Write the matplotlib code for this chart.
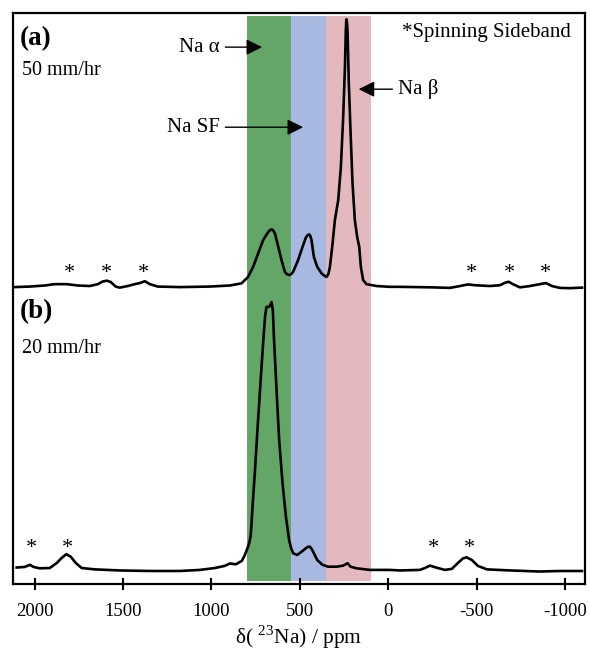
import matplotlib
matplotlib.use('Agg')
import matplotlib.pyplot as plt

plt.rcParams['font.family'] = ['Liberation Serif', 'DejaVu Serif']
plt.rcParams['mathtext.fontset'] = 'custom'
plt.rcParams['mathtext.rm'] = 'Liberation Serif'
plt.rcParams['axes.unicode_minus'] = False

# (a) 50 mm/hr, chemical shift (ppm) and intensity (max peak = 100)
ppm_a = [2113, 2028, 1943, 1887, 1819, 1757, 1689, 1643, 1615, 1592, 1570, 1542,
         1519, 1474, 1434, 1406, 1377, 1349, 1304, 1179, 1009, 896, 830, 793,
         764, 736, 708, 685, 672, 660, 650, 641, 622, 604, 585, 573, 561, 550, 538,
         510, 485, 466, 456, 447, 440, 434, 421, 402, 377, 360, 349, 338, 330, 315,
         302, 283, 268, 255, 245, 240, 238, 236, 233, 230, 223, 213, 202, 189, 176,
         164, 155, 142, 123, 66, -9, -66,
         -253, -349, -406, -451, -490, -575, -632, -660, -681, -705, -745, -802,
         -858, -892, -926, -971, -1028, -1096]
int_a = [0, 0.2, 0.6, 1.1, 1.1, 0.6, 0.4, 1.1, 2.1, 2.4, 1.9, 0.2,
         -0.2, 0.4, 1.1, 1.5, 2.2, 1.1, 0.2, 0, 0.2, 0.6, 1.4, 3.8,
         7.6, 12.6, 17.5, 20.0, 21.1, 21.6, 21.1, 20.0, 15.0, 10.1, 5.7, 4.8, 4.5, 4.8, 5.7,
         10.1, 15.0, 18.5, 19.4, 19.7, 19.0, 17.5, 11.3, 7.6, 5.1, 4.2, 3.8, 5.0, 7.6, 16.3,
         25.0, 32.5, 44.9, 63.5, 82.2, 95.9, 99.0, 100.0, 98.5, 94.7, 76.0, 57.4, 38.7, 25.0, 18.8,
         15.0, 7.6, 2.6, 1.1, 0.4, 0.1, 0.1,
         -0.1, -0.3, 0.4, 1.0, 0.7, 0.4, 0.7, 1.6, 2.0, 1.1, -0.1, 0.4,
         1.1, 1.5, 0.4, -0.3, -0.4, -0.2]

# (b) 20 mm/hr
ppm_b = [2102, 2057, 2028, 2006, 1972, 1915, 1875, 1847, 1821, 1796, 1768, 1734,
         1660, 1519, 1349, 1179, 1066, 981, 925, 896, 862, 828, 811, 793, 786,
         779, 774, 768, 755, 740, 723, 708, 697, 689, 677, 670, 660, 653, 646,
         632, 617, 598, 579, 561, 550, 538, 515, 490, 466, 455, 444, 435, 425, 402, 372,
         340, 292, 255, 230, 213, 179, 104, -9, -66, -179, -207, -236, -270,
         -321, -360, -394, -423, -443, -473, -507, -558, -689, -858, -971, -1096]
int_b = [0.9, 1.1, 1.9, 1.1, 0.6, 0.7, 2.6, 4.5, 5.9, 4.9, 2.6, 0.7,
         0.2, -0.2, -0.4, -0.4, 0, 0.7, 1.5, 2.4, 2.1, 3.4, 5.6, 8.7, 10.2,
         12.4, 16.5, 23.6, 36.1, 52.2, 69.7, 84.6, 94.5, 98.2, 98.2, 98.5, 100.0, 97.0, 85.8,
         67.2, 48.5, 32.4, 19.9, 11.2, 8.2, 6.2, 5.6, 6.8, 8.1, 8.6, 8.7, 8.0, 6.8, 3.7, 1.9,
         1.2, 1.2, 1.6, 2.5, 1.2, 0.6, 0, 0, -0.2, 0, 0.7, 1.6, 0.9,
         0, 0.4, 2.6, 4.3, 4.7, 3.7, 1.5, 0.2, -0.2, -0.6, -0.4, -0.4]

# spinning sideband positions (ppm)
ssb_a = [1802, 1592, 1383, -472, -683, -891]
ssb_b = [2019, 1812, -254, -458]

# shaded regions (ppm)
regions = [(800, 550, '#63A667'), (550, 352, '#A7B8E1'), (352, 95, '#E3B9BE')]

ticks = [2000, 1500, 1000, 500, 0, -500, -1000]

off_a = 110.8
off_b = 5.2

fig = plt.figure(figsize=(5.9, 6.56), dpi=100)
ax = fig.add_axes([0.022, 0.11, 0.9695, 0.87])

for x0, x1, c in regions:
    ax.axvspan(x0, x1, ymin=0.005, ymax=0.995, color=c, lw=0, zorder=0)

ax.plot(ppm_a, [v + off_a for v in int_a], color='black', lw=1.9, zorder=3,
        solid_joinstyle='round')
ax.plot(ppm_b, [v + off_b for v in int_b], color='black', lw=1.9, zorder=3,
        solid_joinstyle='round')

for p in ssb_a:
    ax.text(p, off_a + 5.0, '*', ha='center', va='center', fontsize=16, zorder=4)
for p in ssb_b:
    ax.text(p, off_b + 8.0, '*', ha='center', va='center', fontsize=16, zorder=4)

ax.text(2085, 203.7, '(a)', fontsize=19.5, fontweight='bold', va='center', ha='left')
ax.text(2074, 191.8, '50 mm/hr', fontsize=14.5, va='center', ha='left')
ax.text(2085, 101.6, '(b)', fontsize=19.5, fontweight='bold', va='center', ha='left')
ax.text(2074, 88.0, '20 mm/hr', fontsize=14.5, va='center', ha='left')
ax.text(-77, 206, '*Spinning Sideband', fontsize=15, va='center', ha='left')

arrow = dict(arrowstyle='-|>', color='black', lw=1.0, mutation_scale=24)
ax.annotate('Na α', xy=(698, 200.4), xytext=(953, 200.4), fontsize=15,
            ha='right', va='center', arrowprops=arrow)
ax.annotate('Na SF', xy=(466, 170.5), xytext=(953, 170.5), fontsize=15,
            ha='right', va='center', arrowprops=arrow)
ax.annotate('Na β', xy=(183, 184.7), xytext=(-55, 184.7), fontsize=15,
            ha='left', va='center', arrowprops=arrow)

ax.set_xlim(2123, -1113)
ax.set_ylim(0, 213.1)
ax.set_xticks(ticks)
ax.set_xticklabels([str(t) for t in ticks])
ax.set_yticks([])
ax.tick_params(axis='x', direction='inout', length=9, width=1.5, labelsize=13.5, pad=9)
for s in ax.spines.values():
    s.set_linewidth(1.6)
ax.set_xlabel(r'δ( $^{23}$Na) / ppm', fontsize=15.5, labelpad=3)

fig.savefig('out.png', dpi=100)
